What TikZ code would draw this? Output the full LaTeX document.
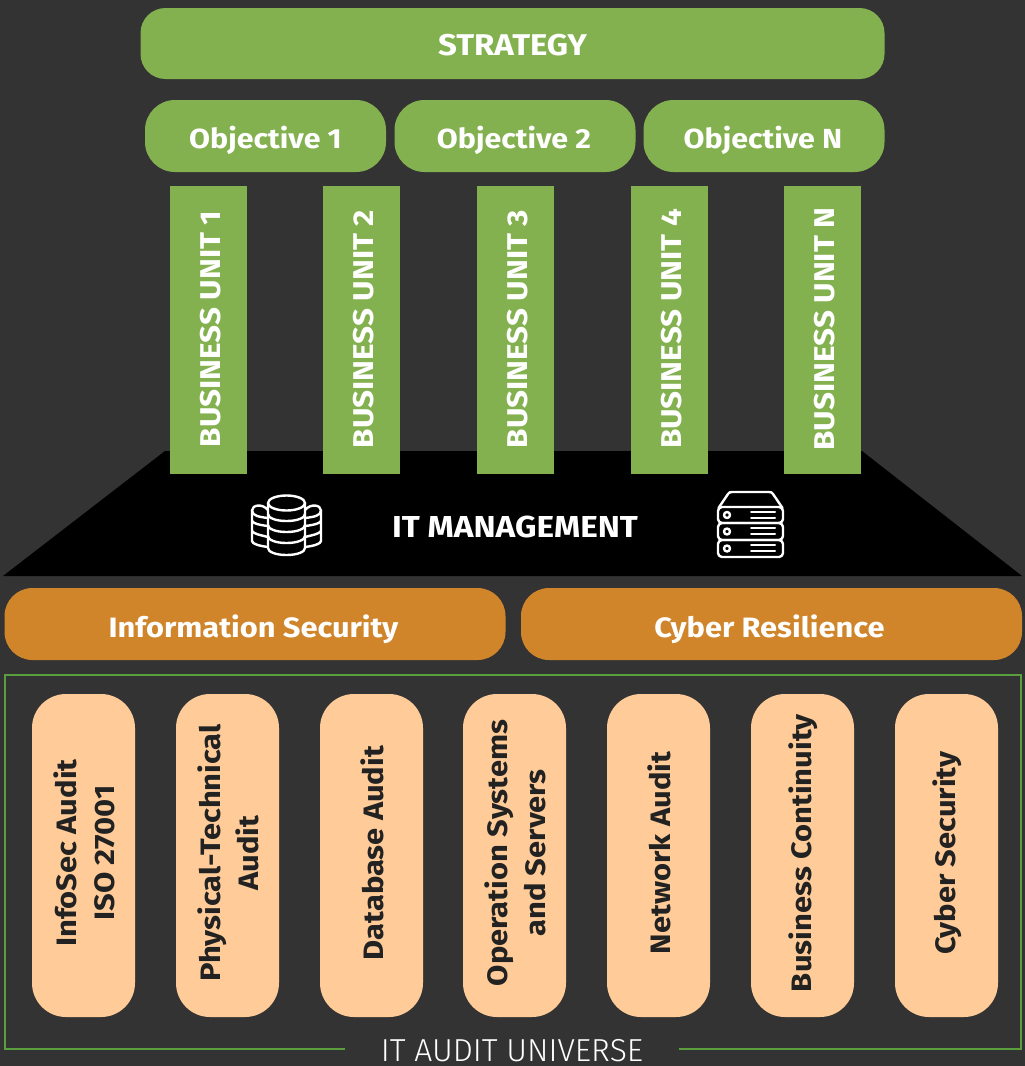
\documentclass[tikz,border=0pt]{standalone}
\usepackage{fontspec}
\setmainfont{Fira Sans}[FakeStretch=1.1]
\newfontfamily\thinfont{Fira Sans Light}
\definecolor{bgc}{HTML}{333333}
\definecolor{greenc}{HTML}{84B14F}
\definecolor{orangec}{HTML}{D0852B}
\definecolor{peachc}{HTML}{FFCC99}
\definecolor{framec}{HTML}{5B9E3D}
\definecolor{darkc}{HTML}{222222}
\tikzset{
  pill/.style={rounded corners=#1,inner sep=0pt,text=white},
  strategybox/.style={pill=25pt,fill=greenc,minimum width=744pt,minimum height=71pt,text height=23.6pt,text depth=0pt,font=\fontsize{30}{34}\selectfont\bfseries},
  objbox/.style={pill=30pt,fill=greenc,minimum width=241pt,minimum height=72pt,text height=25pt,text depth=0pt,font=\fontsize{27.6}{32}\selectfont\bfseries},
  secbox/.style={pill=28pt,fill=orangec,minimum width=501pt,minimum height=72pt,text height=26pt,text depth=0pt,font=\fontsize{28}{32}\selectfont\bfseries},
  unitbox/.style={fill=greenc,minimum width=77pt,minimum height=288pt,inner sep=0pt},
  unitlabel/.style={rotate=90,text=white,inner sep=0pt,font=\fontsize{28.6}{32}\selectfont\bfseries},
  auditbox/.style={rounded corners=34pt,fill=peachc,minimum width=103pt,minimum height=323pt,inner sep=0pt},
  auditlabel/.style={rotate=90,text=darkc,align=center,inner sep=0pt,font=\fontsize{28.1}{38.5}\selectfont\bfseries},
  iconline/.style={draw=white,line width=2.4pt,line join=round,line cap=round},
}
\begin{document}
\begin{tikzpicture}[x=1pt,y=-1pt]
\useasboundingbox[fill=bgc] (0,0) rectangle (1025,1066);
% trapezoid
\fill[black] (165,451) -- (862,451) -- (1022,576) -- (3,576) -- cycle;
% top
\node[strategybox] (strategy) at (512.5,43.5) {STRATEGY};
\node[objbox] (obj1) at (265.5,136) {Objective 1};
\node[objbox] (obj2) at (515,136) {\hspace*{-2pt}Objective 2};
\node[objbox] (objn) at (764,136) {\hspace*{-2pt}Objective N};
% units
\foreach \n/\x/\t in {u1/208.5/BUSINESS UNIT 1,u2/361.5/BUSINESS UNIT 2,u3/515.5/BUSINESS UNIT 3,u4/669.5/BUSINESS UNIT 4,un/822.5/BUSINESS UNIT N}{
  \node[unitbox] (\n) at (\x,330) {};
  \node[unitlabel] (\n l) at (\x+2,329) {\t};
}
\node[inner sep=0pt,text=white,font=\fontsize{30.3}{34}\selectfont\bfseries] (itm) at (515,527) {IT MANAGEMENT};
% database icon
\begin{scope}[iconline]
  \draw (268,510) .. controls (262,503) and (252,505) .. (252,510.5) .. controls (252,516) and (260,517) .. (268,518);
  \draw (252,510.5) -- (252,541) .. controls (252,544) and (260,546) .. (268,547);
  \draw (252,521) .. controls (254,524) and (260,525) .. (268,526);
  \draw (252,531) .. controls (254,534) and (260,535) .. (268,537);
  \draw (305,510) .. controls (311,503) and (321,505) .. (321,510.5) .. controls (321,516) and (313,517) .. (305,518);
  \draw (321,510.5) -- (321,541) .. controls (321,544) and (313,546) .. (305,547);
  \draw (321,521) .. controls (319,524) and (313,525) .. (305,526);
  \draw (321,531) .. controls (319,534) and (313,535) .. (305,537);
  \draw (286.5,503) ellipse [x radius=18.5pt,y radius=7.5pt];
  \draw (268,503) -- (268,548) .. controls (268,552) and (276,555) .. (286.5,555) .. controls (297,555) and (305,552) .. (305,548) -- (305,503);
  \draw (268,514) .. controls (268,518) and (276,521) .. (286.5,521) .. controls (297,521) and (305,518) .. (305,514);
  \draw (268,525) .. controls (268,529) and (276,532) .. (286.5,532) .. controls (297,532) and (305,529) .. (305,525);
  \draw (268,536) .. controls (268,540) and (276,543) .. (286.5,543) .. controls (297,543) and (305,540) .. (305,536);
\end{scope}
% server icon
\begin{scope}[iconline]
  \draw (718.5,508) -- (728,494) .. controls (729,492.5) and (730,492) .. (732,492) -- (769,492) .. controls (771,492) and (772,492.5) .. (773,494) -- (782.5,508);
  \draw[rounded corners=4pt] (718,507) rectangle (783,523);
  \draw[rounded corners=4pt] (718,523) rectangle (783,540);
  \draw[rounded corners=4pt] (718,540) rectangle (783,557);
  \foreach \y in {515,531.5,548.5}{\draw (727,\y) circle [radius=3pt];}
  \foreach \y in {512,518,528,534,545,551}{\draw[line width=2pt] (751,\y) -- (775,\y);}
\end{scope}
% security
\node[secbox] (infosec) at (255,624) {\hspace*{-3pt}Information Security};
\node[secbox] (cyberres) at (771.5,624) {\hspace*{-4pt}Cyber Resilience};
% frame
\node[draw=framec,line width=2.6pt,minimum width=1016pt,minimum height=374pt,inner sep=0pt] (frame) at (513,862) {};
\node[fill=bgc,minimum width=334pt,minimum height=26pt,inner sep=0pt,text=white,font=\thinfont\fontsize{31.8}{36}\selectfont] (universe) at (512,1051) {IT AUDIT UNIVERSE};
% audit
\foreach \n/\x/\t in {a1/83.5/{InfoSec Audit\\ISO 27001},a2/227.5/{Physical-Technical\\Audit},a3/371.5/{Database Audit},a4/514.5/{Operation Systems\\and Servers},a5/658.5/{Network Audit},a6/802.5/{Business Continuity},a7/946.5/{Cyber Security}}{
  \node[auditbox] (\n) at (\x,855.5) {};
  \node[auditlabel] (\n l) at (\x+1,853) {\t};
}
\end{tikzpicture}
\end{document}
